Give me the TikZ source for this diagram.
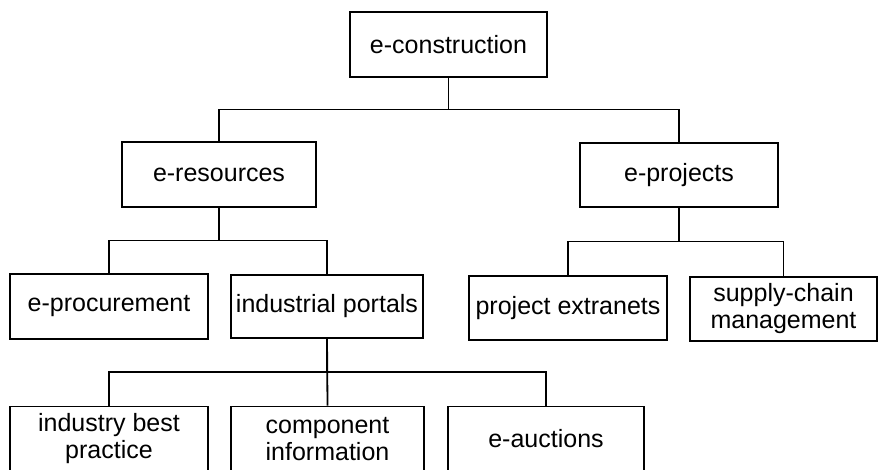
\documentclass[tikz,border=0pt]{standalone}
\usepackage{fontspec}
\setmainfont{Liberation Sans}
\usetikzlibrary{calc}
\usetikzlibrary{positioning}

\begin{document}
\begin{tikzpicture}[x=1pt, y=-1pt,
    font=\fontsize{25}{27}\selectfont,
    line width=1.8pt,
    unit/.style={shape=rectangle, draw, inner sep=0pt, align=center}]

    \path [use as bounding box] (0,0) rectangle (878,469);

    % top level
    \node[name=econ, unit,
      minimum width=197pt, minimum height=65pt] at (448.5,44.5) {e-construction};

    % second level
    \node[name=eres, unit,
      minimum width=194pt, minimum height=65pt] at (219,174.5) {e-resources};
    \node[name=eproj, unit,
      minimum width=198pt, minimum height=64pt] at (679,175) {e-projects};

    % third level
    \node[name=eproc, unit,
      minimum width=198pt, minimum height=65pt] at (109,306.5) {e-procurement};
    \node[name=indp, unit,
      minimum width=192pt, minimum height=63pt] at (327,306.5) {industrial portals};
    \node[name=pext, unit,
      minimum width=198pt, minimum height=64pt] at (568,308) {project extranets};
    \node[name=scm, unit,
      minimum width=187pt, minimum height=64pt] at (783.5,309) {supply-chain\\management};

    % fourth level
    \node[name=ibp, unit,
      minimum width=198pt, minimum height=65pt] at (109,439) {industry best\\practice};
    \node[name=comp, unit,
      minimum width=193pt, minimum height=65pt] at (327.5,439) {component\\information};
    \node[name=eauct, unit,
      minimum width=196pt, minimum height=65pt] at (546,439) {e-auctions};

    % forks
    \coordinate (b1) at ($(econ.south)!0.5!(eres.north)$);
    \coordinate (b2) at ($(eres.south)!0.5!(eproc.north)$);
    \coordinate (b3) at ($(eproj.south)!0.5!(pext.north)$);
    \coordinate (b4) at ($(indp.south)!0.5!(ibp.north)$);

    \draw (econ.south) |- (b1 -| eres.north) -- (eres.north);
    \draw (econ.south) |- (b1 -| eproj.north) -- (eproj.north);

    \draw (eres.south) |- (b2 -| eproc.north) -- (eproc.north);
    \draw (eres.south) |- (b2 -| indp.north) -- (indp.north);

    \draw (eproj.south) |- (b3 -| pext.north) -- (pext.north);
    \draw (eproj.south) |- (b3 -| scm.north) -- (scm.north);

    \draw (indp.south) |- (b4 -| ibp.north) -- (ibp.north);
    \draw (indp.south) -- (comp.north);
    \draw (indp.south) |- (b4 -| eauct.north) -- (eauct.north);

\end{tikzpicture}
\end{document}
